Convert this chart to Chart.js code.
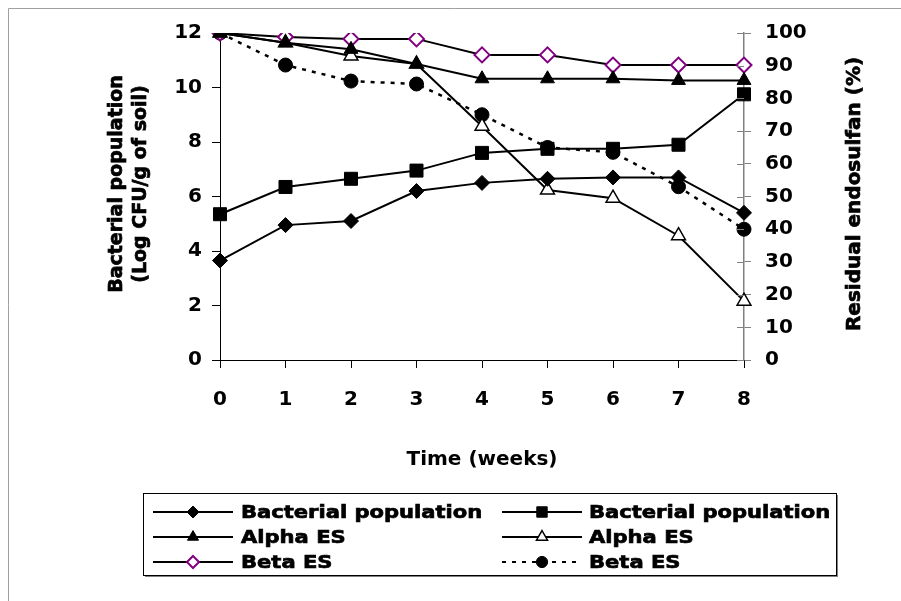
<!DOCTYPE html>
<html>
<head>
<meta charset="utf-8">
<script src="https://cdn.jsdelivr.net/npm/chart.js@4.4.1/dist/chart.umd.min.js"></script>
<style>
  html, body { margin: 0; padding: 0; background: #fff; }
  #wrap { width: 901px; height: 601px; }
</style>
</head>
<body>
<div id="wrap"><canvas id="endosulfanChart" width="901" height="601"></canvas></div>
<script>
// values
var weeks = ['0', '1', '2', '3', '4', '5', '6', '7', '8'];
var bacteriaDiamond = [3.65, 4.95, 5.1, 6.2, 6.5, 6.65, 6.7, 6.7, 5.4];      // log CFU/g
var bacteriaSquare = [5.35, 6.35, 6.65, 6.95, 7.6, 7.75, 7.75, 7.9, 9.75];   // log CFU/g
var alphaFilled = [100, 97, 95, 90.5, 86, 86, 86, 85.5, 85.5];               // %
var alphaOpen = [100, 97, 93, 90.5, 71.5, 52, 49.5, 38, 18];                 // %
var betaPurple = [100, 98.8, 98.2, 98.2, 93.3, 93.3, 90.2, 90.2, 90.2];      // %
var betaDotted = [100, 90.2, 85.3, 84.4, 75, 65, 63.5, 53, 40];              // %
var leftTicks = [0, 2, 4, 6, 8, 10, 12];
var rightTicks = [0, 10, 20, 30, 40, 50, 60, 70, 80, 90, 100];

var FONT = 'DejaVu Sans';
Chart.defaults.font.family = FONT;
Chart.defaults.font.weight = 'bold';
Chart.defaults.font.size = 20;
Chart.defaults.color = '#000';

function drawMarker(ctx, style, x, y, r, fill, stroke, lw) {
    ctx.save();
    ctx.fillStyle = fill;
    ctx.strokeStyle = stroke;
    ctx.lineWidth = lw;
    ctx.setLineDash([]);
    ctx.beginPath();
    if (style === 'rectRot') {
        ctx.moveTo(x, y - r); ctx.lineTo(x + r, y); ctx.lineTo(x, y + r); ctx.lineTo(x - r, y);
    } else if (style === 'rect') {
        var s = r * Math.SQRT1_2;
        ctx.rect(x - s, y - s, 2 * s, 2 * s);
    } else if (style === 'triangle') {
        ctx.moveTo(x, y - r); ctx.lineTo(x + r * 0.866, y + r / 2); ctx.lineTo(x - r * 0.866, y + r / 2);
    } else {
        ctx.arc(x, y, r, 0, Math.PI * 2);
    }
    ctx.closePath();
    ctx.fill();
    ctx.stroke();
    ctx.restore();
}

// heavy text: fill plus a thin outline of the same colour
function heavyText(ctx, text, x, y) {
    ctx.lineWidth = 0.7;
    ctx.strokeStyle = '#000';
    ctx.fillText(text, x, y);
    ctx.strokeText(text, x, y);
}

// grey outer frame (only top and left edges are inside the picture)
var framePlugin = {
    id: 'frame',
    beforeDraw: function(chart) {
        var ctx = chart.ctx;
        ctx.save();
        ctx.fillStyle = '#fff';
        ctx.fillRect(0, 0, chart.width, chart.height);
        ctx.strokeStyle = '#a0a0a0';
        ctx.lineWidth = 1;
        ctx.beginPath();
        ctx.moveTo(8.5, chart.height); ctx.lineTo(8.5, 8.5); ctx.lineTo(chart.width, 8.5);
        ctx.stroke();
        ctx.restore();
    }
};

// axis titles, right-axis inner ticks and the legend
var extrasPlugin = {
    id: 'extras',
    afterDraw: function(chart) {
        var ctx = chart.ctx;
        var area = chart.chartArea;
        var y2 = chart.scales.y2;

        // right axis ticks cross the axis line
        ctx.save();
        ctx.strokeStyle = '#808080';
        ctx.lineWidth = 1;
        for (var i = 0; i < rightTicks.length; i++) {
            var ty = Math.round(y2.getPixelForValue(rightTicks[i])) + 0.5;
            ctx.beginPath();
            ctx.moveTo(area.right - 7, ty);
            ctx.lineTo(area.right, ty);
            ctx.stroke();
        }
        ctx.restore();

        // left title, two lines
        ctx.save();
        ctx.fillStyle = '#000';
        ctx.font = 'bold 19px ' + FONT;
        ctx.textAlign = 'center';
        ctx.textBaseline = 'middle';
        ctx.translate(117, 184);
        ctx.rotate(-Math.PI / 2);
        heavyText(ctx, 'Bacterial population', 0, 0);
        heavyText(ctx, '(Log CFU/g of soil)', 0, 24);
        ctx.restore();

        // right title, reads bottom to top
        ctx.save();
        ctx.fillStyle = '#000';
        ctx.font = 'bold 20px ' + FONT;
        ctx.textAlign = 'center';
        ctx.textBaseline = 'middle';
        ctx.translate(855, 194);
        ctx.rotate(-Math.PI / 2);
        heavyText(ctx, 'Residual endosulfan (%)', 0, 0);
        ctx.restore();

        // legend box
        var bx = 143, by = 493, bw = 693, bh = 82;
        ctx.save();
        ctx.fillStyle = '#808080';
        ctx.fillRect(bx + 2, by + 2, bw, bh);
        ctx.fillStyle = '#fff';
        ctx.fillRect(bx, by, bw, bh);
        ctx.strokeStyle = '#000';
        ctx.lineWidth = 1;
        ctx.strokeRect(bx + 0.5, by + 0.5, bw, bh);
        ctx.restore();

        var cols = [{ x0: 153, x1: 233, mx: 193, tx: 241 }, { x0: 502, x1: 582, mx: 542, tx: 589 }];
        var rows = [512, 537, 562];
        chart.data.datasets.forEach(function(ds, k) {
            var c = cols[k % 2];
            var ry = rows[Math.floor(k / 2)];
            ctx.save();
            ctx.strokeStyle = ds.borderColor;
            ctx.lineWidth = 2;
            ctx.setLineDash(ds.borderDash || []);
            ctx.beginPath();
            ctx.moveTo(c.x0, ry);
            ctx.lineTo(c.x1, ry);
            ctx.stroke();
            ctx.restore();
            drawMarker(ctx, ds.pointStyle, c.mx, ry, ds.pointRadius * 0.8,
                ds.pointBackgroundColor, ds.pointBorderColor, ds.pointBorderWidth);
            ctx.save();
            ctx.fillStyle = '#000';
            ctx.font = 'bold 18px ' + FONT;
            ctx.textBaseline = 'middle';
            ctx.translate(c.tx, ry + 1);
            ctx.scale(1.17, 1);
            heavyText(ctx, ds.label, 0, 0);
            ctx.restore();
        });
    }
};

var ctx = document.getElementById('endosulfanChart').getContext('2d');
var chart = new Chart(ctx, {
    type: 'line',
    data: {
        labels: weeks,
        datasets: [{
            label: 'Bacterial population',
            data: bacteriaDiamond,
            yAxisID: 'y',
            borderColor: '#000',
            borderWidth: 2,
            pointStyle: 'rectRot',
            pointRadius: 7.5,
            pointBackgroundColor: '#000',
            pointBorderColor: '#000',
            pointBorderWidth: 1
        }, {
            label: 'Bacterial population',
            data: bacteriaSquare,
            yAxisID: 'y',
            borderColor: '#000',
            borderWidth: 2,
            pointStyle: 'rect',
            pointRadius: 9.2,
            pointBackgroundColor: '#000',
            pointBorderColor: '#000',
            pointBorderWidth: 1
        }, {
            label: 'Alpha ES',
            data: alphaFilled,
            yAxisID: 'y2',
            borderColor: '#000',
            borderWidth: 2,
            pointStyle: 'triangle',
            pointRadius: 8,
            pointBackgroundColor: '#000',
            pointBorderColor: '#000',
            pointBorderWidth: 1
        }, {
            label: 'Alpha ES',
            data: alphaOpen,
            yAxisID: 'y2',
            borderColor: '#000',
            borderWidth: 2,
            pointStyle: 'triangle',
            pointRadius: 8,
            pointBackgroundColor: '#fff',
            pointBorderColor: '#000',
            pointBorderWidth: 1.5
        }, {
            label: 'Beta ES',
            data: betaPurple,
            yAxisID: 'y2',
            borderColor: '#000',
            borderWidth: 2,
            pointStyle: 'rectRot',
            pointRadius: 7.5,
            pointBackgroundColor: '#fff',
            pointBorderColor: '#800080',
            pointBorderWidth: 2
        }, {
            label: 'Beta ES',
            data: betaDotted,
            yAxisID: 'y2',
            borderColor: '#000',
            borderWidth: 2.5,
            borderDash: [4, 6],
            pointStyle: 'circle',
            pointRadius: 7,
            pointBackgroundColor: '#000',
            pointBorderColor: '#000',
            pointBorderWidth: 1
        }]
    },
    options: {
        responsive: false,
        animation: false,
        layout: { padding: { top: 33, left: 0, right: 0, bottom: 129 } },
        plugins: {
            legend: { display: false },
            tooltip: { enabled: false }
        },
        elements: { line: { tension: 0 } },
        scales: {
            x: {
                type: 'category',
                offset: false,
                grid: { drawOnChartArea: false, color: '#000', tickLength: 8 },
                border: { color: '#000', width: 1 },
                ticks: { padding: 20, maxRotation: 0, autoSkip: false },
                title: { display: true, text: 'Time (weeks)', font: { size: 20, weight: 'bold' }, padding: { top: 0, bottom: 0 } },
                afterFit: function(s) { s.height = 112; }
            },
            y: {
                position: 'left',
                min: leftTicks[0],
                max: leftTicks[leftTicks.length - 1],
                ticks: { stepSize: leftTicks[1] - leftTicks[0], padding: 10 },
                grid: { drawOnChartArea: false, color: '#000', tickLength: 8 },
                border: { color: '#000', width: 1 },
                afterFit: function(s) { s.width = 220; }
            },
            y2: {
                position: 'right',
                min: rightTicks[0],
                max: rightTicks[rightTicks.length - 1],
                ticks: { stepSize: rightTicks[1] - rightTicks[0], padding: 14 },
                grid: { drawOnChartArea: false, color: '#808080', tickLength: 7 },
                border: { color: '#808080', width: 1.5 },
                afterFit: function(s) { s.width = 157; }
            }
        }
    },
    plugins: [framePlugin, extrasPlugin]
});
</script>
</body>
</html>
